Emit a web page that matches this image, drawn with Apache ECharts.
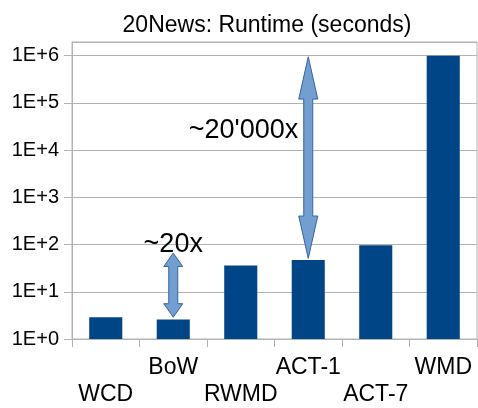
<!DOCTYPE html>
<html>
<head>
<meta charset="utf-8">
<script src="https://cdn.jsdelivr.net/npm/echarts@6/dist/echarts.min.js"></script>
<style>
html,body{margin:0;padding:0;background:#fff;}
#chart{width:478px;height:408px;}
</style>
</head>
<body>
<div id="chart"></div>
<script>
var titleText = '20News: Runtime (seconds)';
var categories = ['WCD', 'BoW', 'RWMD', 'ACT-1', 'ACT-7', 'WMD'];
var runtimes = [2.9, 2.6, 36, 47, 97, 1000000];
// arrows: [category index, lower value, upper value]
var arrows = [[1, 2.9, 66], [3, 51, 950000]];
var arrowLabels = ['~20x', "~20'000x"];
var arrowLabelValues = [null, 26000];

var FONT = '"Liberation Sans", Arial, sans-serif';
var GRID = '#b3b3b3';

var chart = echarts.init(document.getElementById('chart'), null, {renderer: 'canvas'});

function renderArrow(params, api) {
  var i = params.dataIndex;
  var cat = api.value(0);
  var top = api.coord([cat, api.value(2)]);
  var bot = api.coord([cat, api.value(1)]);
  var x = top[0], y0 = top[1], y1 = bot[1];
  var len = y1 - y0;
  var hl = len * 0.21;
  var sw = 4.5, hw = 9.5;
  var pts = [
    [x, y0], [x + hw, y0 + hl], [x + sw, y0 + hl], [x + sw, y1 - hl], [x + hw, y1 - hl],
    [x, y1], [x - hw, y1 - hl], [x - sw, y1 - hl], [x - sw, y0 + hl], [x - hw, y0 + hl]
  ];
  var children = [{
    type: 'polygon',
    shape: {points: pts},
    style: {fill: '#729fcf', stroke: '#3465a4', lineWidth: 1}
  }];
  var lv = arrowLabelValues[i];
  if (lv == null) {
    children.push({
      type: 'text',
      style: {text: arrowLabels[i], x: x, y: y0 - 9, textAlign: 'center', textVerticalAlign: 'middle',
        font: '27px ' + FONT, fill: '#000'}
    });
  } else {
    var ly = api.coord([cat, lv])[1];
    children.push({
      type: 'text',
      style: {text: arrowLabels[i], x: x - 10, y: ly, textAlign: 'right', textVerticalAlign: 'middle',
        font: '27px ' + FONT, fill: '#000'}
    });
  }
  return {type: 'group', children: children};
}

chart.setOption({
  animation: false,
  backgroundColor: '#fff',
  title: {
    text: titleText,
    left: 262,
    textAlign: 'center',
    top: 9,
    textStyle: {fontFamily: FONT, fontSize: 23, fontWeight: 'normal', color: '#000'}
  },
  grid: {left: 72, right: 1, top: 42, bottom: 64, show: true, borderColor: GRID, borderWidth: 1},
  xAxis: {
    type: 'category',
    data: categories,
    axisLine: {lineStyle: {color: GRID}},
    axisTick: {show: true, length: 8, lineStyle: {color: GRID}},
    axisLabel: {
      interval: 0,
      margin: 15,
      fontFamily: FONT,
      fontSize: 23,
      color: '#000',
      lineHeight: 27,
      formatter: function (v, idx) { return idx % 2 === 0 ? '\n' + v : v; }
    }
  },
  yAxis: {
    type: 'log',
    logBase: 10,
    min: 1,
    max: 1950000,
    axisLine: {show: true, lineStyle: {color: GRID}},
    axisTick: {show: true, length: 8, lineStyle: {color: GRID}},
    splitLine: {show: true, lineStyle: {color: GRID}},
    axisLabel: {
      showMaxLabel: false,
      margin: 13,
      fontFamily: FONT,
      fontSize: 20,
      color: '#000',
      formatter: function (v) { return '1E+' + Math.round(Math.log10(v)); }
    }
  },
  series: [
    {
      type: 'bar',
      data: runtimes,
      barWidth: '49%',
      itemStyle: {color: '#004586'}
    },
    {
      type: 'custom',
      data: arrows,
      encode: {x: 0, y: [1, 2]},
      renderItem: renderArrow,
      clip: false,
      z: 5
    }
  ]
});
</script>
</body>
</html>
